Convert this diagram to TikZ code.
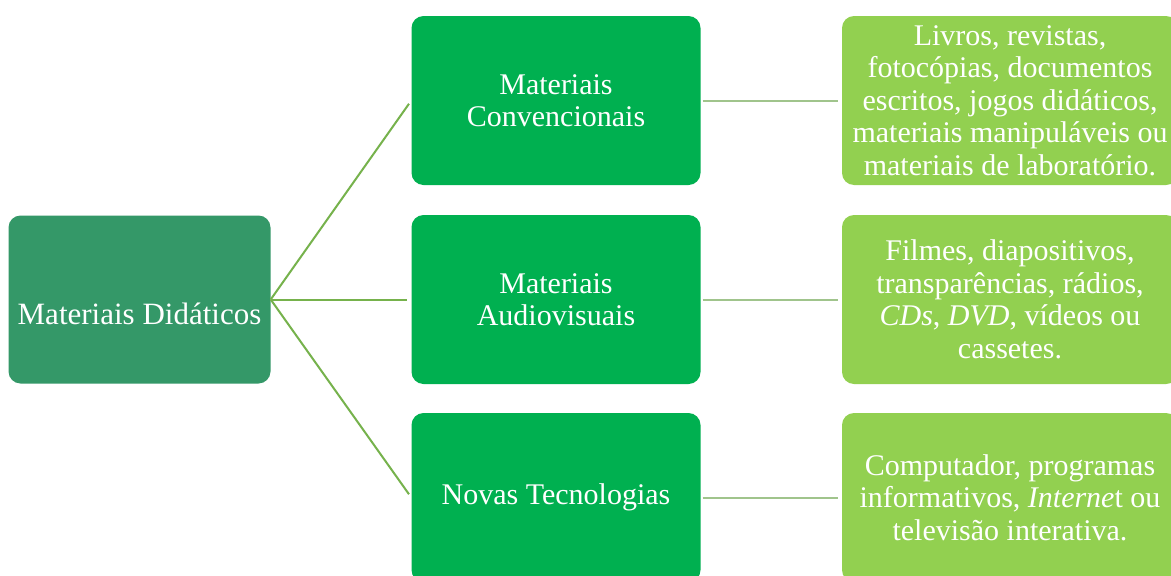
\documentclass[tikz,border=0pt]{standalone}
\usepackage{fontspec}
\setmainfont{Liberation Serif}
\usepackage{tikz}

\definecolor{rootgreen}{RGB}{52,152,104}
\definecolor{midgreen}{RGB}{0,176,80}
\definecolor{leafgreen}{RGB}{146,208,80}
\definecolor{linkA}{RGB}{118,178,76}
\definecolor{linkB}{RGB}{160,196,140}

\begin{document}
\begin{tikzpicture}[x=1pt, y=-1pt,
	every node/.style={font=\fontsize{30}{32}\selectfont, text=white, align=center, rounded corners=12pt, inner sep=0pt},
	rootbox/.style={fill=rootgreen, minimum width=262pt, minimum height=168pt, font=\fontsize{31}{32}\selectfont, text height=49pt, text depth=0pt},
	midbox/.style={fill=midgreen, minimum width=289pt, minimum height=169pt},
	leafbox/.style={fill=leafgreen, minimum width=336pt, minimum height=169pt, font=\fontsize{30}{32.5}\selectfont},
	rootlink/.style={draw=linkA, line width=2pt, shorten >=4pt},
	leaflink/.style={draw=linkB, line width=2pt, shorten <=2pt, shorten >=4pt}]
	\clip (0,0) rectangle (1171,576);
	\fill[white] (0,0) rectangle (1171,576);
	% left
	\node[rootbox] (root) at (139.5,299.5) {Materiais Didáticos};
	% middle column
	\node[midbox] (conv) at (556,100.5) {Materiais\\Convencionais};
	\node[midbox] (audio) at (556,299.5) {Materiais\\Audiovisuais};
	\node[midbox] (tec) at (556,497.5) {Novas Tecnologias};
	% right column
	\node[leafbox] (convex) at (1010,100.5) {Livros, revistas,\\fotocópias, documentos\\escritos, jogos didáticos,\\materiais manipuláveis ou\\materiais de laboratório.};
	\node[leafbox] (audioex) at (1010,299.5) {Filmes, diapositivos,\\transparências, rádios,\\\textit{CDs}, \textit{DVD}, vídeos ou\\cassetes.};
	\node[leafbox] (tecex) at (1010,497.5) {Computador, programas\\informativos, \textit{Interne}t ou\\televisão interativa.};
	% links
	\foreach \m in {conv,audio,tec}
		\draw[rootlink] (root.east) -- (\m.west);
	\draw[leaflink] (conv.east) -- (convex.west);
	\draw[leaflink] (audio.east) -- (audioex.west);
	\draw[leaflink] (tec.east) -- (tecex.west);
\end{tikzpicture}
\end{document}
